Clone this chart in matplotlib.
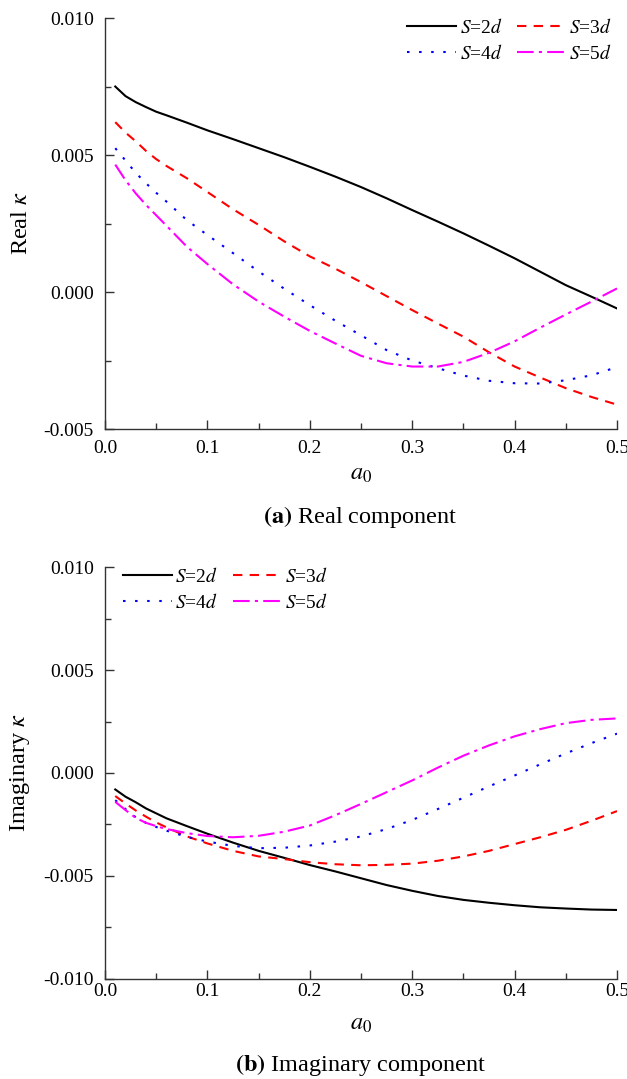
import numpy as np
import matplotlib
matplotlib.use("Agg")
import matplotlib.pyplot as plt
from matplotlib.ticker import MultipleLocator, FormatStrFormatter

plt.rcParams["font.family"] = ["Liberation Serif", "DejaVu Serif"]
plt.rcParams["mathtext.fontset"] = "stix"
plt.rcParams["axes.unicode_minus"] = False

# dimensionless frequency
a0 = [0.01, 0.02, 0.03, 0.04, 0.05, 0.06, 0.08, 0.10, 0.125, 0.15, 0.175, 0.20,
      0.225, 0.25, 0.275, 0.30, 0.325, 0.35, 0.375, 0.40, 0.425, 0.45, 0.475, 0.50]

# real part of kappa (x 1e-3)
re_2d = [7.50, 7.15, 6.93, 6.75, 6.58, 6.45, 6.18, 5.90, 5.58, 5.25, 4.92, 4.57,
         4.21, 3.83, 3.42, 2.99, 2.57, 2.14, 1.69, 1.23, 0.74, 0.25, -0.17, -0.60]
re_3d = [6.20, 5.82, 5.50, 5.15, 4.85, 4.60, 4.15, 3.65, 3.02, 2.45, 1.85, 1.30,
         0.85, 0.36, -0.15, -0.66, -1.15, -1.63, -2.20, -2.72, -3.12, -3.51, -3.83, -4.11]
re_4d = [5.25, 4.80, 4.35, 3.97, 3.62, 3.30, 2.62, 2.08, 1.42, 0.75, 0.12, -0.48,
         -1.05, -1.58, -2.12, -2.50, -2.78, -3.05, -3.24, -3.33, -3.34, -3.22, -3.04, -2.74]
re_5d = [4.65, 4.08, 3.60, 3.18, 2.80, 2.42, 1.65, 1.02, 0.28, -0.35, -0.90, -1.42,
         -1.88, -2.33, -2.60, -2.72, -2.72, -2.55, -2.22, -1.80, -1.30, -0.82, -0.35, 0.13]

# imaginary part of kappa (x 1e-3)
im_2d = [-0.80, -1.15, -1.42, -1.72, -1.96, -2.20, -2.58, -2.95, -3.38, -3.78, -4.12, -4.47,
         -4.78, -5.11, -5.44, -5.72, -5.97, -6.16, -6.30, -6.42, -6.52, -6.58, -6.63, -6.65]
im_3d = [-1.12, -1.48, -1.82, -2.12, -2.40, -2.64, -3.08, -3.42, -3.78, -4.05, -4.18, -4.33,
         -4.43, -4.48, -4.46, -4.40, -4.26, -4.05, -3.78, -3.45, -3.12, -2.76, -2.32, -1.85]
im_4d = [-1.32, -1.75, -2.15, -2.42, -2.62, -2.80, -3.10, -3.33, -3.54, -3.65, -3.63, -3.52,
         -3.33, -3.08, -2.72, -2.28, -1.75, -1.20, -0.65, -0.12, 0.42, 0.95, 1.45, 1.91]
im_5d = [-1.40, -1.80, -2.18, -2.42, -2.58, -2.72, -2.92, -3.06, -3.12, -3.05, -2.85, -2.55,
         -2.05, -1.50, -0.93, -0.36, 0.26, 0.84, 1.34, 1.78, 2.13, 2.42, 2.58, 2.65]

labels = [r"$S$=2$d$", r"$S$=3$d$", r"$S$=4$d$", r"$S$=5$d$"]
colors = ["black", "#ff0000", "#0000ff", "#ff00ff"]
dashes = [None, (4.5, 3.5), (1.2, 4.6), (8, 2.5, 1.5, 2.5)]


def draw(ax, series, ylim, ylabel, leg_x, xpad):
    x = np.array(a0)
    lines = []
    for y, lab, c, d in zip(series, labels, colors, dashes):
        ln, = ax.plot(x, np.array(y) * 1e-3, color=c, lw=1.5, label=lab)
        if d is not None:
            ln.set_dashes(d)
        lines.append(ln)

    ax.set_xlim(0, 0.5)
    ax.set_ylim(*ylim)
    ax.xaxis.set_major_locator(MultipleLocator(0.1))
    ax.xaxis.set_minor_locator(MultipleLocator(0.05))
    ax.yaxis.set_major_locator(MultipleLocator(0.005))
    ax.yaxis.set_minor_locator(MultipleLocator(0.0025))
    ax.xaxis.set_major_formatter(FormatStrFormatter("%.1f"))
    ax.yaxis.set_major_formatter(FormatStrFormatter("%.3f"))
    ax.tick_params(which="both", direction="in", labelsize=14,
                   color="#333333", width=1)
    ax.tick_params(axis="y", which="both", pad=8)
    ax.tick_params(axis="x", which="both", pad=xpad)
    ax.tick_params(which="major", length=6.5)
    ax.tick_params(which="minor", length=4.5)
    for s in ["top", "right"]:
        ax.spines[s].set_visible(False)
    for s in ["left", "bottom"]:
        ax.spines[s].set_color("#333333")
        ax.spines[s].set_linewidth(1)

    ax.set_ylabel(ylabel, fontsize=17.5)
    ax.yaxis.set_label_coords(-0.143, 0.5)
    ax.set_xlabel(r"$a_0$", fontsize=17.5)
    ax.xaxis.set_label_coords(0.5, -0.085)

    # two rows: 2d, 3d on top and 4d, 5d below
    order = [0, 2, 1, 3]
    ax.legend(handles=[lines[i] for i in order], ncol=2, frameon=False, fontsize=14,
              loc="upper left", bbox_to_anchor=(leg_x, 1.0),
              borderpad=0, borderaxespad=0, handlelength=2.5,
              handletextpad=0.2, columnspacing=0.75, labelspacing=0.35)


fig = plt.figure(figsize=(6.27, 10.79), dpi=100)
ax1 = fig.add_axes([0.1675, 0.6024, 0.8166, 0.3809])
ax2 = fig.add_axes([0.1675, 0.0927, 0.8166, 0.3818])

draw(ax1, [re_2d, re_3d, re_4d, re_5d], (-0.005, 0.010), r"Real $\kappa$", 0.59, 8)
draw(ax2, [im_2d, im_3d, im_4d, im_5d], (-0.010, 0.010), r"Imaginary $\kappa$", 0.035, 3)

fig.text(0.575, 1 - 517 / 1079, r"$\mathbf{(a)}$ Real component",
         ha="center", va="center", fontsize=17.5)
fig.text(0.575, 1 - 1065 / 1079, r"$\mathbf{(b)}$ Imaginary component",
         ha="center", va="center", fontsize=17.5)

fig.savefig("out.png", dpi=100)
